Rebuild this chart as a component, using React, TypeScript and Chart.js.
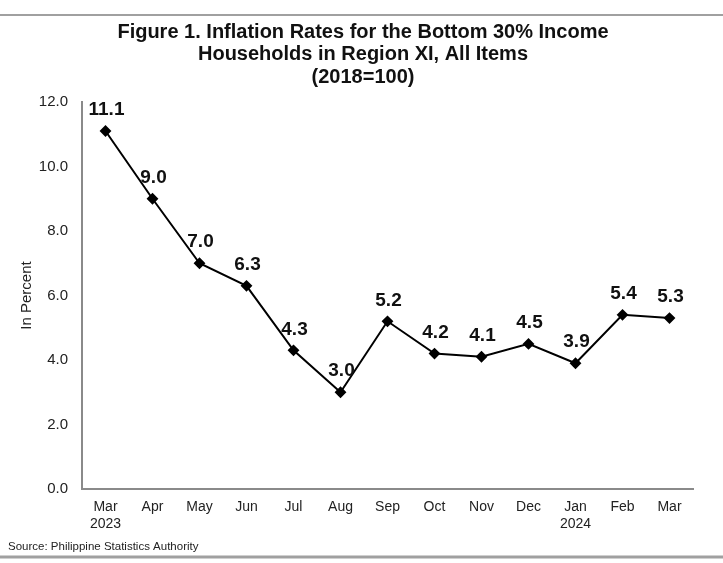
import React, { useEffect, useRef } from "react";
import { Chart, registerables } from "chart.js";

Chart.register(...registerables);

const categories: (string | string[])[] = [
  ["Mar", "2023"], "Apr", "May", "Jun", "Jul", "Aug", "Sep", "Oct", "Nov", "Dec", ["Jan", "2024"], "Feb", "Mar",
];
const inflationValues: number[] = [11.1, 9.0, 7.0, 6.3, 4.3, 3.0, 5.2, 4.2, 4.1, 4.5, 3.9, 5.4, 5.3];
const titleLines: string[] = [
  "Figure 1. Inflation Rates for the Bottom 30% Income",
  "Households in Region XI, All Items",
  "(2018=100)",
];
const sourceText = "Source: Philippine Statistics Authority";
const yAxisTitle = "In Percent";

const FONT = "'Liberation Sans', Arial, sans-serif";

const decorPlugin = {
  id: "decor",
  beforeDraw(chart: any) {
    const ctx = chart.ctx;
    ctx.save();
    ctx.fillStyle = "#ffffff";
    ctx.fillRect(0, 0, chart.width, chart.height);
    ctx.restore();
  },
  afterDraw(chart: any) {
    const ctx = chart.ctx;
    ctx.save();
    // frame lines
    ctx.strokeStyle = "#a0a0a0";
    ctx.lineWidth = 2;
    ctx.beginPath();
    ctx.moveTo(0, 15);
    ctx.lineTo(chart.width, 15);
    ctx.stroke();
    ctx.lineWidth = 3;
    ctx.beginPath();
    ctx.moveTo(0, 557);
    ctx.lineTo(chart.width, 557);
    ctx.stroke();
    // title
    ctx.fillStyle = "#111111";
    ctx.font = `bold 20px ${FONT}`;
    ctx.textAlign = "center";
    ctx.textBaseline = "middle";
    titleLines.forEach((t, i) => ctx.fillText(t, 363, 32 + i * 22.5));
    // source
    ctx.font = `11.5px ${FONT}`;
    ctx.textAlign = "left";
    ctx.fillStyle = "#222222";
    ctx.fillText(sourceText, 8, 547);
    // data labels
    const meta = chart.getDatasetMeta(0);
    ctx.font = `bold 19px ${FONT}`;
    ctx.textAlign = "center";
    ctx.fillStyle = "#111111";
    meta.data.forEach((pt: any, i: number) => {
      ctx.fillText(inflationValues[i].toFixed(1), pt.x + 1, pt.y - 21);
    });
    ctx.restore();
  },
};

export default function App() {
  const ref = useRef<HTMLCanvasElement | null>(null);
  useEffect(() => {
    document.body.style.margin = "0";
    if (!ref.current) return;
    const chart = new Chart(ref.current, {
      type: "line",
      data: {
        labels: categories,
        datasets: [
          {
            data: inflationValues,
            borderColor: "#000000",
            backgroundColor: "#000000",
            borderWidth: 2,
            pointStyle: "rectRot",
            pointRadius: 4.5,
            pointBackgroundColor: "#000000",
            pointBorderColor: "#000000",
            tension: 0,
          },
        ],
      },
      options: {
        responsive: false,
        animation: false,
        layout: { padding: { left: 18, right: 30, top: 102, bottom: 0 } },
        plugins: {
          legend: { display: false },
          title: { display: false },
          tooltip: { enabled: false },
        },
        scales: {
          x: {
            offset: true,
            grid: { display: false, drawTicks: false },
            border: { display: true, color: "#8a8a8a", width: 2 },
            ticks: {
              color: "#222222",
              font: { family: FONT, size: 14, lineHeight: 1.2 },
              padding: 10,
              maxRotation: 0,
              autoSkip: false,
            },
            afterFit(scale: any) {
              scale.height = 74;
            },
          },
          y: {
            min: 0,
            max: 12,
            grid: { display: false, drawTicks: false },
            border: { display: true, color: "#8a8a8a", width: 2 },
            ticks: {
              stepSize: 2,
              color: "#222222",
              font: { family: FONT, size: 15 },
              padding: 14,
              callback: (v: any) => Number(v).toFixed(1),
            },
            title: {
              display: true,
              text: yAxisTitle,
              color: "#222222",
              font: { family: FONT, size: 15 },
              padding: { top: 0, bottom: 0 },
            },
            afterFit(scale: any) {
              scale.width = 64;
            },
          },
        },
      },
      plugins: [decorPlugin],
    });
    return () => chart.destroy();
  }, []);
  return <canvas ref={ref} width={723} height={563} style={{ display: "block" }} />;
}
